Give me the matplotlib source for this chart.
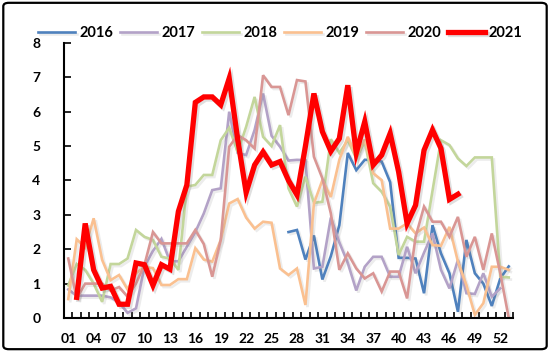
import numpy as np
import matplotlib
matplotlib.use("Agg")
import matplotlib.pyplot as plt
import matplotlib.patheffects as pe
from matplotlib.patches import FancyBboxPatch

nan = np.nan
weeks = list(range(1, 54))
tick_weeks = list(range(1, 53, 3))
tick_labels = ["%02d" % w for w in tick_weeks]

y2016 = [nan] * 26 + [2.5, 2.56, 1.7, 2.4, 1.12, 1.8, 2.7, 4.8, 4.3, 4.6, 4.6, 4.55, 3.95,
                      1.75, 1.75, 1.73, 0.72, 2.7, 1.88, 1.3, 0.18, 2.27, 1.3, 1.0, 0.35, 1.15, 1.5]
y2017 = [0.83, 0.65, 0.65, 0.65, 0.65, 0.6, 0.45, 0.15, 0.28, 1.5, 1.95, 2.3, 1.65, 1.65, 2.07,
         2.5, 3.04, 3.72, 3.77, 6.0, 4.8, 4.74, 5.47, 6.53, 5.3, 4.98, 4.58, 4.6, 4.59, 1.44,
         1.49, 2.92, 2.2, 1.6, 0.8, 1.49, 1.78, 1.78, 1.2, 1.2, 2.07, 1.3, 1.9, 2.46, 1.4, 0.86,
         1.69, 0.72, 0.7, 1.3, 0.62, 0.86, nan]
y2018 = [0.95, 1.57, 1.4, 1.0, 0.47, 1.57, 1.57, 1.73, 2.56, 2.36, 2.27, 1.78, 1.73, 1.4, 3.82,
         3.87, 4.16, 4.16, 5.17, 5.53, 4.83, 5.56, 6.43, 5.27, 5.0, 5.61, 3.77, 3.24, 4.11, 3.35,
         3.38, 5.2, 4.8, 5.17, 4.64, 5.13, 3.92, 3.67, 3.24, 1.83, 2.36, 2.22, 2.22, 3.7, 5.17,
         5.03, 4.64, 4.42, 4.67, 4.67, 4.67, 1.2, 1.18]
y2019 = [0.55, 2.29, 2.05, 2.9, 1.69, 1.1, 1.25, 0.83, 1.3, 1.49, 1.45, 0.96, 0.96, 1.13, 1.13,
         2.03, 1.7, 1.64, 2.27, 3.33, 3.46, 2.92, 2.6, 2.8, 2.77, 1.44, 1.25, 1.44, 0.38, 3.33,
         4.01, 3.52, 4.6, 5.27, 4.69, 5.19, 4.21, 4.01, 2.6, 2.6, 2.75, 2.46, 2.63, 2.12, 2.1,
         2.65, 1.64, 0.96, 0.09, 0.43, 1.49, 1.49, 1.4]
y2020 = [1.73, 0.57, 1.0, 1.0, 1.0, 0.8, 0.9, 0.62, 1.0, 1.55, 2.5, 2.17, 2.17, 2.17, 2.17,
         2.56, 2.15, 1.2, 2.27, 4.98, 5.32, 5.17, 4.93, 7.06, 6.72, 6.72, 5.9, 6.92, 6.88, 4.69,
         4.06, 3.04, 1.4, 1.88, 1.44, 1.15, 1.3, 0.77, 1.35, 1.35, 0.57, 2.36, 3.24, 2.8, 2.8,
         2.36, 2.94, 1.78, 2.36, 1.4, 2.46, 1.3, 0.0]
y2021 = [nan, 0.6, 2.75, 1.4, 0.87, 0.92, 0.4, 0.4, 1.6, 1.55, 0.95, 1.55, 1.42, 3.1, 3.87,
         6.27, 6.43, 6.43, 6.2, 6.97, 5.2, 3.65, 4.45, 4.83, 4.45, 4.55, 4.0, 3.58, 5.0, 6.53,
         5.42, 4.85, 5.22, 6.77, 4.8, 5.71, 4.45, 4.74, 5.37, 4.25, 2.75, 3.28, 4.88, 5.47, 4.93,
         3.45, 3.6] + [nan] * 6

series = [("2016", y2016, "#4F81BD", 1.9),
          ("2017", y2017, "#B3A2C7", 1.9),
          ("2018", y2018, "#C3D69B", 1.9),
          ("2019", y2019, "#FAC090", 1.9),
          ("2020", y2020, "#D99694", 1.9),
          ("2021", y2021, "#FF0000", 3.8)]

plt.rcParams["font.family"] = ["Lato", "DejaVu Sans"]
plt.rcParams["font.weight"] = "bold"

fig = plt.figure(figsize=(5.5, 3.52), dpi=100)
ax = fig.add_axes([0.1164, 0.0966, 0.8163, 0.7814])

handles = []
for name, vals, color, lw in series:
    shadow = pe.SimpleLineShadow(offset=(1.5, -1.5), alpha=0.25 if lw > 3 else 0.15,
                                 shadow_color="gray")
    line, = ax.plot(weeks, np.array(vals, dtype=float), color=color, lw=lw, label=name,
                    solid_joinstyle="miter", path_effects=[shadow, pe.Normal()])
    handles.append(line)

ax.set_xlim(0.5, 53.5)
ax.set_ylim(0, 8)
ax.set_xticks(tick_weeks)
ax.set_xticklabels(tick_labels)
ax.set_xticks(np.arange(0.5, 54, 1), minor=True)
ax.set_yticks(range(0, 9))
ax.tick_params(axis="x", which="major", length=0, pad=11, labelsize=10)
ax.tick_params(axis="x", which="minor", direction="in", length=4, width=1.2)
ax.tick_params(axis="y", direction="in", length=5, width=1.2, pad=17, labelsize=10)
for lab in ax.get_xticklabels() + ax.get_yticklabels():
    lab.set_fontweight("bold")
for s in ["top", "right"]:
    ax.spines[s].set_visible(False)
for s in ["left", "bottom"]:
    ax.spines[s].set_linewidth(1.5)

fig.legend(handles=handles, loc="center", bbox_to_anchor=(0.51, 0.905), ncol=6,
           frameon=False, prop={"weight": "bold", "size": 10.5}, handlelength=2.5,
           handletextpad=0.3, columnspacing=0.5)

frame = FancyBboxPatch((0.006, 0.008), 0.988, 0.984, boxstyle="round,pad=0,rounding_size=0.01",
                       transform=fig.transFigure, fill=False, edgecolor="black", lw=1.6)
fig.patches.append(frame)

fig.savefig("out.png", dpi=100)
